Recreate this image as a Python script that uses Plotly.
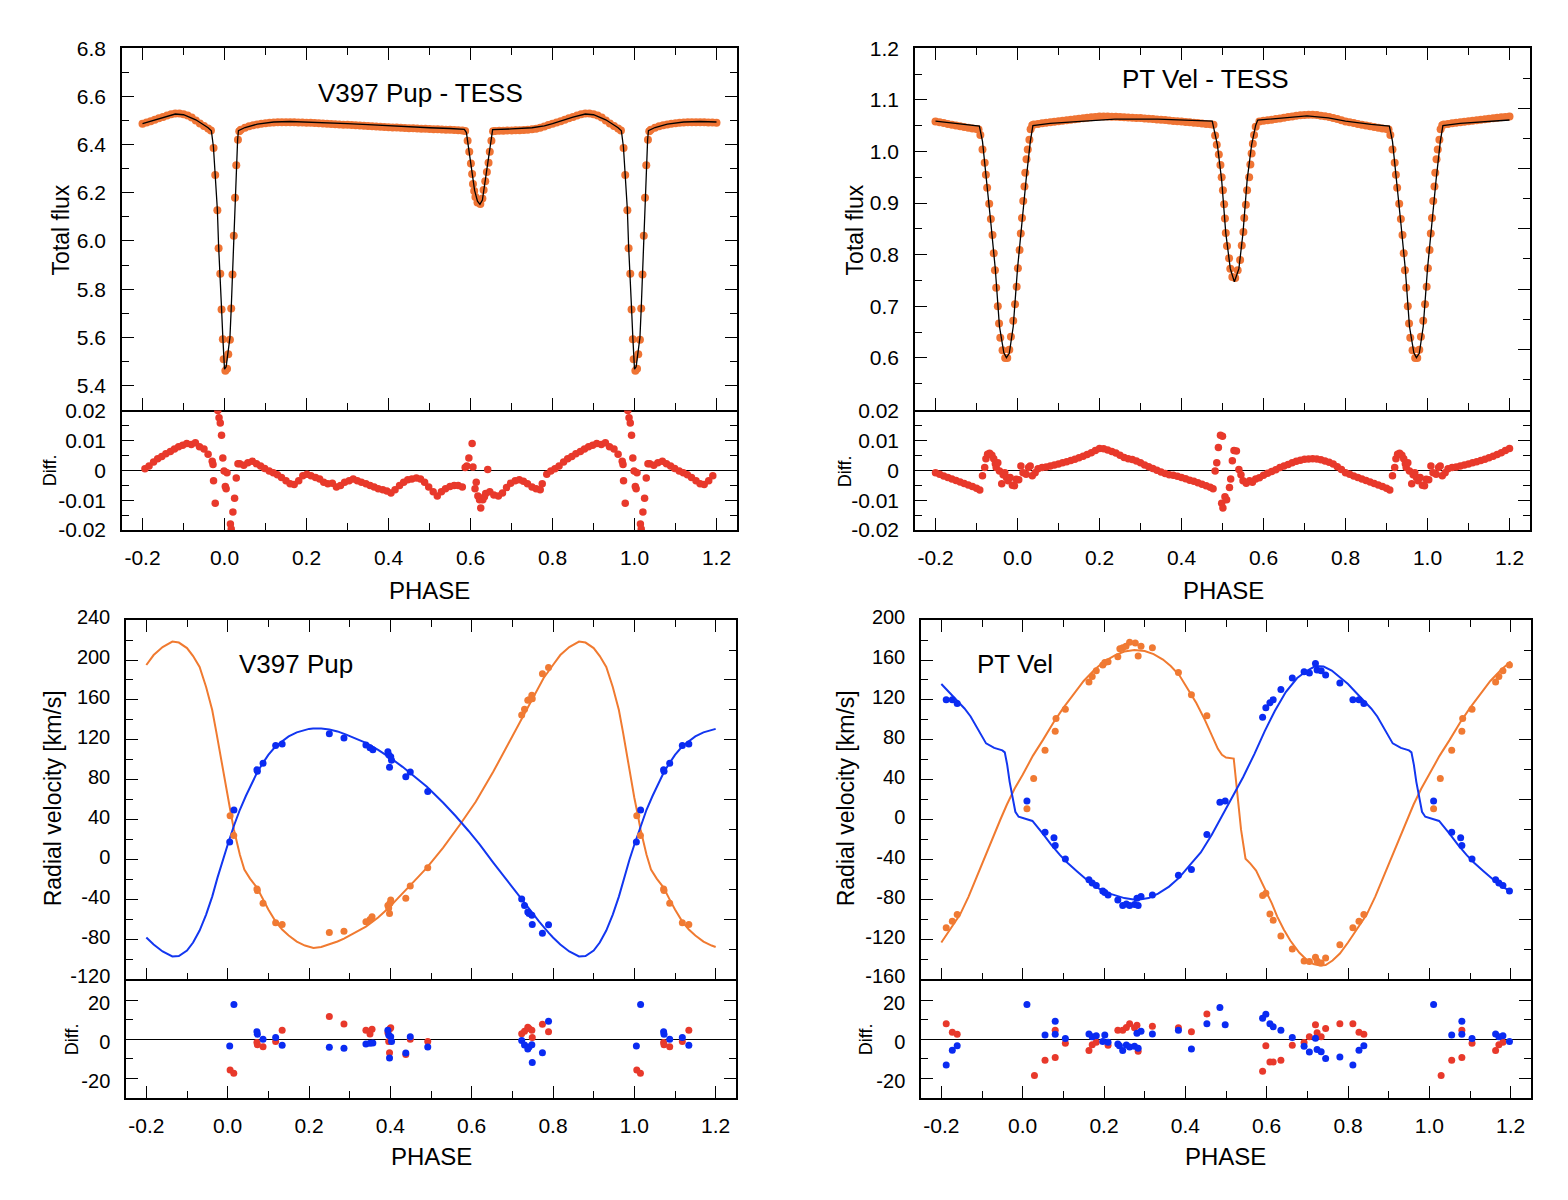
import plotly.graph_objects as go

W, H = 1568, 1200
FONT = "Liberation Sans, Arial, Helvetica, sans-serif"

# ---------------- V397 Pup - TESS light curve (base phase 0..1) ----------------
PUP_LC_PHASE = [
    0.0021, 0.0062, 0.0092, 0.0133, 0.0164, 0.0195, 0.0226, 0.0256, 0.0287, 0.0328,
    0.036, 0.04, 0.05, 0.06, 0.07, 0.08, 0.09, 0.10, 0.11, 0.12,
    0.13, 0.14, 0.15, 0.16, 0.17, 0.18, 0.19, 0.20, 0.21, 0.22,
    0.23, 0.24, 0.25, 0.26, 0.27, 0.28, 0.29, 0.30, 0.31, 0.32,
    0.33, 0.34, 0.35, 0.36, 0.37, 0.38, 0.39, 0.40, 0.41, 0.42,
    0.43, 0.44, 0.45, 0.46, 0.47, 0.48, 0.49, 0.50, 0.51, 0.52,
    0.53, 0.54, 0.55, 0.56, 0.57, 0.58, 0.587,
    0.593, 0.597, 0.601, 0.604, 0.606, 0.609, 0.612, 0.617, 0.624, 0.629,
    0.632, 0.636, 0.640, 0.644, 0.647, 0.651,
    0.655, 0.66, 0.67, 0.68, 0.69, 0.70, 0.71, 0.72, 0.73, 0.74,
    0.75, 0.76, 0.77, 0.78, 0.79, 0.80, 0.81, 0.82, 0.83, 0.84,
    0.85, 0.86, 0.87, 0.88, 0.89, 0.90, 0.91, 0.92, 0.93, 0.94,
    0.95, 0.96, 0.967,
    0.9733, 0.9774, 0.9826, 0.9856, 0.9897, 0.9928, 0.9959, 0.9979,
]
PUP_LC_FLUX = [
    5.461, 5.470, 5.530, 5.590, 5.720, 5.861, 6.022, 6.179, 6.314, 6.420,
    6.455, 6.462, 6.470, 6.476, 6.480, 6.484, 6.487, 6.489, 6.491, 6.492,
    6.493, 6.493, 6.493, 6.493, 6.493, 6.492, 6.492, 6.491, 6.491, 6.490,
    6.489, 6.488, 6.487, 6.486, 6.485, 6.484, 6.483, 6.482, 6.481, 6.480,
    6.479, 6.478, 6.477, 6.476, 6.475, 6.474, 6.473, 6.472, 6.471, 6.471,
    6.470, 6.469, 6.468, 6.468, 6.467, 6.466, 6.466, 6.465, 6.464, 6.464,
    6.463, 6.462, 6.462, 6.461, 6.460, 6.459, 6.457,
    6.416, 6.370, 6.322, 6.278, 6.237, 6.207, 6.183, 6.160, 6.153, 6.176,
    6.212, 6.248, 6.286, 6.325, 6.370, 6.416,
    6.455, 6.457, 6.458, 6.458, 6.459, 6.459, 6.460, 6.460, 6.461, 6.462,
    6.464, 6.466, 6.470, 6.475, 6.481, 6.487, 6.492, 6.497, 6.503, 6.509,
    6.515, 6.521, 6.526, 6.529, 6.529, 6.526, 6.521, 6.513, 6.500, 6.488,
    6.477, 6.467, 6.459,
    6.386, 6.274, 6.128, 5.970, 5.864, 5.715, 5.592, 5.509,
]
PUP_LC_MODEL_PHASE = [
    0.0, 0.004, 0.0092, 0.0133, 0.0164, 0.0195, 0.0226, 0.0256, 0.0287, 0.032,
    0.034, 0.05, 0.08, 0.12, 0.16, 0.2, 0.25, 0.3, 0.35, 0.4,
    0.45, 0.5, 0.55, 0.585, 0.59, 0.597, 0.603, 0.61, 0.617, 0.623,
    0.629, 0.636, 0.643, 0.65, 0.654, 0.7, 0.75, 0.78, 0.8, 0.85,
    0.88, 0.9, 0.93, 0.96, 0.968, 0.973, 0.9774, 0.9826, 0.9856, 0.9897,
    0.9928, 0.9959, 0.9985,
]
PUP_LC_MODEL_FLUX = [
    5.468, 5.478, 5.535, 5.600, 5.720, 5.860, 6.020, 6.175, 6.310, 6.420,
    6.458, 6.471, 6.485, 6.494, 6.496, 6.494, 6.491, 6.487, 6.483, 6.478,
    6.474, 6.470, 6.467, 6.463, 6.450, 6.370, 6.300, 6.210, 6.165, 6.152,
    6.170, 6.250, 6.330, 6.420, 6.462, 6.465, 6.470, 6.478, 6.487, 6.514,
    6.527, 6.524, 6.503, 6.470, 6.457, 6.390, 6.280, 6.130, 5.980, 5.860,
    5.720, 5.600, 5.500,
]
PUP_LC_RES_PHASE = [
    0.002, 0.004, 0.006, 0.0144, 0.0164, 0.0205, 0.0246, 0.0287, 0.0328,
    0.037, 0.047, 0.057, 0.068, 0.078, 0.088, 0.098, 0.109, 0.119, 0.129,
    0.139, 0.150, 0.160, 0.170, 0.181, 0.191, 0.201, 0.211, 0.222, 0.232,
    0.242, 0.252, 0.263, 0.273, 0.283, 0.293, 0.304, 0.314, 0.324, 0.334,
    0.345, 0.355, 0.365, 0.375, 0.386, 0.396, 0.406, 0.416, 0.427, 0.437,
    0.447, 0.457, 0.468, 0.478, 0.488, 0.498, 0.509, 0.519, 0.529, 0.539,
    0.550, 0.560, 0.570, 0.580,
    0.587, 0.591, 0.596, 0.604, 0.606, 0.611, 0.614, 0.618, 0.622, 0.625,
    0.630, 0.634, 0.637, 0.642, 0.647,
    0.657, 0.668, 0.678, 0.688, 0.698, 0.709, 0.719, 0.729, 0.739, 0.750,
    0.760, 0.770, 0.775, 0.786, 0.796, 0.806, 0.816, 0.827, 0.837, 0.847,
    0.857, 0.868, 0.878, 0.888, 0.898, 0.908, 0.919, 0.929, 0.939, 0.950,
    0.960, 0.970, 0.972,
    0.9733, 0.9774, 0.9836, 0.9867, 0.9897, 0.9928, 0.9959, 0.999,
]
PUP_LC_RES = [
    -0.0054, -0.0062, -0.0008, -0.0180, -0.0197, -0.0140, -0.0094, -0.0026, 0.0022,
    0.0022, 0.0017, 0.0025, 0.0030, 0.0022, 0.0014, 0.0006, -0.0002, -0.0008, -0.0015,
    -0.0024, -0.0035, -0.0045, -0.0048, -0.0035, -0.0018, -0.0013, -0.0018, -0.0024, -0.0029,
    -0.0040, -0.0045, -0.0043, -0.0056, -0.0051, -0.0040, -0.0035, -0.0029, -0.0035, -0.0040,
    -0.0045, -0.0051, -0.0056, -0.0062, -0.0065, -0.0069, -0.0076, -0.0065, -0.0051, -0.0040,
    -0.0032, -0.0029, -0.0026, -0.0029, -0.0040, -0.0056, -0.0072, -0.0086, -0.0072, -0.0062,
    -0.0054, -0.0051, -0.0051, -0.0056,
    0.0009, 0.0014, 0.0041, 0.0090, 0.0011, -0.0062, -0.0040, -0.0086, -0.0099, -0.0126,
    -0.0099, -0.0089, -0.0078, 0.0003, -0.0072,
    -0.0083, -0.0086, -0.0076, -0.0058, -0.0043, -0.0035, -0.0032, -0.0037, -0.0045, -0.0056,
    -0.0062, -0.0065, -0.0045, -0.0013, -0.0002, 0.0005, 0.0014, 0.0028, 0.0039, 0.0046,
    0.0055, 0.0063, 0.0071, 0.0079, 0.0084, 0.0090, 0.0086, 0.0092, 0.0079, 0.0071,
    0.0054, 0.0030, 0.0019,
    -0.0035, -0.0110, 0.0200, 0.0176, 0.0158, 0.0117, 0.0041, -0.0002,
]

# ---------------- PT Vel - TESS light curve (base phase 0..1) ----------------
PTV_LC_PHASE = [
    0.001, 0.005, 0.008, 0.011, 0.014, 0.017, 0.019, 0.022, 0.025, 0.029,
    0.032, 0.036, 0.04, 0.05, 0.06, 0.07, 0.08, 0.09, 0.10, 0.11,
    0.12, 0.13, 0.14, 0.15, 0.16, 0.17, 0.18, 0.19, 0.20, 0.21,
    0.22, 0.23, 0.24, 0.25, 0.26, 0.27, 0.28, 0.29, 0.30, 0.31,
    0.32, 0.33, 0.34, 0.35, 0.36, 0.37, 0.38, 0.39, 0.40, 0.41,
    0.42, 0.43, 0.44, 0.45, 0.46, 0.47, 0.478,
    0.482, 0.486, 0.491, 0.495, 0.498, 0.501, 0.504, 0.506, 0.508, 0.511,
    0.516, 0.519, 0.524, 0.531, 0.537, 0.543, 0.547, 0.551, 0.553, 0.557,
    0.560, 0.565, 0.568, 0.571, 0.574, 0.577, 0.581,
    0.59, 0.60, 0.61, 0.62, 0.63, 0.64, 0.65, 0.66, 0.67, 0.68,
    0.69, 0.70, 0.71, 0.72, 0.73, 0.74, 0.75, 0.76, 0.77, 0.78,
    0.79, 0.80, 0.81, 0.82, 0.83, 0.84, 0.85, 0.86, 0.87, 0.88,
    0.89, 0.90, 0.905,
    0.9094, 0.9146, 0.920, 0.9229, 0.926, 0.931, 0.935, 0.939, 0.942, 0.945,
    0.948, 0.952, 0.955, 0.958, 0.9635, 0.970, 0.975, 0.980, 0.984, 0.9896,
    0.994, 0.998,
]
PTV_LC_FLUX = [
    0.774, 0.809, 0.841, 0.871, 0.904, 0.932, 0.959, 0.985, 1.004, 1.023,
    1.043, 1.051, 1.0525, 1.0535, 1.0545, 1.0555, 1.0565, 1.0575, 1.0585, 1.0595,
    1.0605, 1.0615, 1.0625, 1.0635, 1.0645, 1.0655, 1.0663, 1.0670, 1.0676, 1.0680,
    1.0678, 1.0675, 1.0671, 1.0667, 1.0663, 1.0659, 1.0655, 1.0651, 1.0647, 1.0641,
    1.0635, 1.0628, 1.0622, 1.0615, 1.0608, 1.0600, 1.0593, 1.0585, 1.0580, 1.0572,
    1.0565, 1.0558, 1.0550, 1.0542, 1.0535, 1.0527, 1.0520,
    1.031, 1.013, 0.994, 0.974, 0.950, 0.925, 0.898, 0.870, 0.842, 0.817,
    0.793, 0.773, 0.757, 0.755, 0.770, 0.790, 0.818, 0.844, 0.871, 0.897,
    0.925, 0.950, 0.975, 0.996, 1.015, 1.032, 1.048,
    1.058, 1.0595, 1.0605, 1.0615, 1.0628, 1.0640, 1.0655, 1.0668, 1.0680, 1.0692,
    1.0700, 1.0708, 1.0712, 1.0710, 1.0705, 1.0695, 1.0683, 1.0668, 1.0650, 1.0630,
    1.0605, 1.0581, 1.0565, 1.0550, 1.0535, 1.0520, 1.0505, 1.0490, 1.0475, 1.0462,
    1.0448, 1.0435, 1.0428,
    1.032, 1.004, 0.978, 0.955, 0.930, 0.899, 0.869, 0.838, 0.803, 0.770,
    0.736, 0.700, 0.667, 0.639, 0.615, 0.600, 0.600, 0.616, 0.641, 0.672,
    0.704, 0.738,
]
PTV_LC_MODEL_PHASE = [
    0.0, 0.0104, 0.0208, 0.0313, 0.0375, 0.08, 0.133, 0.2, 0.2375, 0.342,
    0.415, 0.475, 0.4875, 0.498, 0.508, 0.519, 0.529, 0.54, 0.55, 0.56,
    0.571, 0.581, 0.586, 0.654, 0.706, 0.758, 0.8, 0.8625, 0.907, 0.9146,
    0.925, 0.935, 0.9458, 0.956, 0.9667, 0.973, 0.980, 0.9896,
]
PTV_LC_MODEL_FLUX = [
    0.7728, 0.8614, 0.9437, 1.0196, 1.0500, 1.0545, 1.0576, 1.0610, 1.0627, 1.0627,
    1.0608, 1.0589, 1.013, 0.944, 0.842, 0.773, 0.7475, 0.773, 0.842, 0.944,
    1.013, 1.051, 1.0608, 1.0652, 1.0690, 1.0652, 1.0589, 1.0525, 1.0494, 1.0196,
    0.9437, 0.8614, 0.7728, 0.661, 0.610, 0.6006, 0.609, 0.661,
]
PTV_LC_RES_PHASE = [
    0.003, 0.0083, 0.0135, 0.021, 0.027, 0.031, 0.036, 0.043,
    0.05, 0.06, 0.07, 0.08, 0.09, 0.10, 0.11, 0.12, 0.13, 0.14,
    0.15, 0.16, 0.17, 0.18, 0.19, 0.20, 0.21, 0.22, 0.23, 0.24,
    0.25, 0.26, 0.27, 0.28, 0.29, 0.30, 0.31, 0.32, 0.33, 0.34,
    0.35, 0.36, 0.37, 0.38, 0.39, 0.40, 0.41, 0.42, 0.43, 0.44,
    0.45, 0.46, 0.47, 0.477,
    0.482, 0.486, 0.49, 0.495, 0.5, 0.498, 0.501, 0.506, 0.51, 0.517,
    0.52, 0.524, 0.528, 0.534, 0.54, 0.545, 0.55, 0.558, 0.566, 0.573, 0.581,
    0.59, 0.60, 0.61, 0.62, 0.63, 0.64, 0.65, 0.66, 0.67, 0.68,
    0.69, 0.70, 0.71, 0.72, 0.73, 0.74, 0.75, 0.76, 0.77, 0.78,
    0.79, 0.80, 0.81, 0.82, 0.83, 0.84, 0.85, 0.86, 0.87, 0.88,
    0.89, 0.90, 0.908,
    0.9146, 0.920, 0.923, 0.927, 0.932, 0.9375, 0.942, 0.946, 0.948, 0.952,
    0.956, 0.9615, 0.965, 0.969, 0.973, 0.977, 0.982, 0.9875, 0.9927, 0.997,
]
PTV_LC_RES = [
    -0.0032, 0.0014, -0.0008, -0.0013, 0.0009, 0.0014, -0.0018, -0.0008,
    0.0005, 0.0009, 0.0011, 0.0014, 0.0018, 0.0021, 0.0025, 0.0029, 0.0033, 0.0037,
    0.0042, 0.0047, 0.0053, 0.0059, 0.0066, 0.0073, 0.0072, 0.0068, 0.0063, 0.0058,
    0.0050, 0.0043, 0.0039, 0.0036, 0.0031, 0.0025, 0.0018, 0.0012, 0.0006, 0.0000,
    -0.0006, -0.0011, -0.0015, -0.0017, -0.0020, -0.0024, -0.0028, -0.0033, -0.0037, -0.0042,
    -0.0047, -0.0052, -0.0057, -0.0062,
    -0.0002, 0.0025, 0.0076, 0.0117, 0.0114, -0.0110, -0.0126, -0.0089, -0.0099, -0.0058,
    -0.0029, 0.0032, 0.0066, 0.0065, 0.0003, -0.0015, -0.0035, -0.0043, -0.0035, -0.0040, -0.0029,
    -0.0025, -0.0017, -0.0010, -0.0004, 0.0002, 0.0009, 0.0014, 0.0019, 0.0025, 0.0030,
    0.0034, 0.0037, 0.0038, 0.0039, 0.0038, 0.0035, 0.0031, 0.0027, 0.0021, 0.0012,
    0.0003, -0.0008, -0.0013, -0.0019, -0.0024, -0.0029, -0.0034, -0.0039, -0.0044, -0.0049,
    -0.0054, -0.0060, -0.0066,
    -0.0018, 0.0009, 0.0039, 0.0054, 0.0057, 0.0050, 0.0039, 0.0022, 0.0009, 0.0025,
    -0.0002, -0.0045, -0.0015, -0.0008, -0.0024, -0.0035, -0.0024, -0.0050, -0.0052, -0.0030,
]

# ---------------- V397 Pup radial velocities (base phase 0..1) ----------------
PUP_RV1_PHASE = [0.005, 0.0154, 0.072, 0.073, 0.087, 0.118, 0.134, 0.25, 0.286, 0.34,
                 0.35, 0.357, 0.394, 0.396, 0.401, 0.403, 0.398, 0.438, 0.449, 0.492,
                 0.723, 0.73, 0.738, 0.741, 0.748, 0.749, 0.774, 0.789]
PUP_RV1 = [17.7, 49.8, 90.0, 88.5, 96.7, 114.4, 116.0, 126.2, 122.0, 114.8,
           112.0, 110.0, 108.0, 105.0, 103.0, 99.6, 92.5, 83.0, 87.8, 68.4,
           -39.3, -46.0, -52.5, -54.0, -55.8, -65.0, -73.8, -65.2]
PUP_RES1 = [-3.5, 17.7, 3.8, 2.5, 0.0, 0.8, -3.1, -4.1, -4.6, -2.5,
            -2.1, -2.0, 4.6, 2.1, 1.3, -1.2, -9.6, -7.1, 1.3, -4.0,
            -0.7, -3.0, -5.0, -4.0, -2.8, -11.9, -6.9, 9.1]
PUP_RV2_PHASE = [0.006, 0.015, 0.072, 0.073, 0.087, 0.118, 0.134, 0.25, 0.286, 0.34,
                 0.35, 0.355, 0.394, 0.396, 0.399, 0.401, 0.398, 0.438, 0.449, 0.492,
                 0.723, 0.73, 0.738, 0.741, 0.748, 0.749, 0.774, 0.789]
PUP_RV2 = [44.0, 24.3, -29.5, -31.0, -43.6, -63.3, -65.0, -73.0, -71.8, -62.3,
           -60.0, -57.3, -46.0, -48.5, -43.6, -40.3, -54.0, -38.7, -26.3, -8.2,
           144.9, 150.8, 159.7, 160.3, 164.6, 161.3, 186.2, 192.5]
PUP_RES2 = [-15.7, -17.4, -1.7, -2.8, -3.8, -1.2, 4.6, 11.6, 7.8, 4.6,
            2.6, 5.1, 3.3, -1.2, 5.3, 5.8, -6.9, -7.8, 0.0, -1.2,
            2.8, 4.1, 6.1, 5.5, 4.6, 0.8, 7.6, 3.8]
PUP_MOD1_PHASE = [0.0, 0.0154, 0.03, 0.045, 0.06, 0.072, 0.087, 0.10, 0.118, 0.134,
                  0.15, 0.17, 0.19, 0.2, 0.21, 0.23, 0.25, 0.27, 0.29, 0.31,
                  0.34, 0.37, 0.40, 0.43, 0.46, 0.49, 0.53, 0.56, 0.592, 0.62,
                  0.653, 0.685, 0.715, 0.74, 0.766, 0.789, 0.80, 0.818, 0.84, 0.864,
                  0.88, 0.90, 0.915, 0.931, 0.947, 0.962, 0.975, 0.988]
PUP_MOD1 = [15, 34, 50, 64, 77, 87, 97, 105, 113.6, 119,
            123.5, 127.5, 130, 131, 131.5, 131.5, 130.5, 128.5, 125.5, 122,
            117, 110, 102, 93, 83, 73, 57, 44, 29, 15,
            -3, -20, -35, -48, -62, -73, -78, -85, -92, -97,
            -96.5, -91, -83, -71, -55, -37, -18, 0]
PUP_MOD2_PHASE = [0.0, 0.008, 0.0154, 0.03, 0.041, 0.055, 0.072, 0.087, 0.10, 0.118,
                  0.134, 0.15, 0.17, 0.19, 0.2, 0.211, 0.23, 0.25, 0.27, 0.286,
                  0.31, 0.34, 0.37, 0.397, 0.42, 0.44, 0.46, 0.49, 0.53, 0.571,
                  0.61, 0.653, 0.69, 0.723, 0.748, 0.777, 0.80, 0.818, 0.84, 0.864,
                  0.88, 0.90, 0.915, 0.931, 0.947, 0.962, 0.972, 0.982, 0.99, 0.997]
PUP_MOD2 = [62, 46, 30, 5, -10, -19, -28, -40, -50, -62,
            -70, -76, -82, -86, -87.5, -88.5, -87.5, -85, -82, -79,
            -74, -67, -58, -48, -38, -30, -21, -8, 12, 35,
            58, 88, 116, 142, 160, 182, 195, 205, 213, 218.5,
            217.5, 212, 204, 193, 173, 150, 128, 104, 86, 70]

# ---------------- PT Vel radial velocities (base phase 0..1) ----------------
PTV_RV1_PHASE = [0.0105, 0.055, 0.077, 0.08, 0.105, 0.163, 0.171, 0.181, 0.197, 0.202,
                 0.21, 0.234, 0.246, 0.255, 0.263, 0.275, 0.284, 0.281, 0.291, 0.319,
                 0.383, 0.415, 0.453, 0.485, 0.498, 0.59, 0.598, 0.608, 0.616, 0.635,
                 0.663, 0.692, 0.705, 0.72, 0.724, 0.734, 0.745, 0.78, 0.812, 0.827, 0.839]
PTV_RV1 = [18.8, -12.6, -18.1, -25.7, -39.4, -60.0, -63.3, -65.9, -71.5, -73.0,
           -75.4, -80.3, -86.0, -84.5, -86.0, -85.0, -86.0, -78.7, -77.0, -75.4,
           -55.7, -49.8, -14.7, 17.6, 18.8, 102.6, 112.1, 117.1, 120.3, 130.5,
           141.9, 148.2, 146.9, 156.4, 150.1, 149.2, 144.9, 137.0, 120.3, 120.3, 116.4]
PTV_RES1_PHASE = [0.0105, 0.055, 0.08, 0.08, 0.105, 0.163, 0.171, 0.181, 0.197, 0.202,
                  0.21, 0.234, 0.238, 0.246, 0.255, 0.263, 0.275, 0.281, 0.284, 0.291,
                  0.319, 0.383, 0.415, 0.453, 0.485, 0.498, 0.59, 0.598, 0.608, 0.616,
                  0.635, 0.663, 0.692, 0.705, 0.72, 0.724, 0.734, 0.745, 0.78, 0.812,
                  0.827, 0.839]
PTV_RES1 = [17.7, 2.1, 9.1, 2.5, 0.3, 2.6, 1.3, 1.7, -1.2, 2.1,
            -1.5, -2.5, -3.3, -5.8, -3.0, -4.0, -3.6, 3.0, -4.6, 4.1,
            2.6, 4.6, -5.0, 7.9, 16.2, 7.4, 10.7, 12.7, 7.9, 6.3,
            4.6, 0.8, -3.6, -6.6, 0.5, -5.3, -6.4, -9.8, -9.1, -13.2,
            -5.6, -3.3]
PTV_RV2_PHASE = [0.0105, 0.027, 0.055, 0.08, 0.082, 0.105, 0.163, 0.171, 0.181, 0.197,
                 0.202, 0.21, 0.234, 0.239, 0.246, 0.254, 0.263, 0.277, 0.284, 0.291,
                 0.319, 0.383, 0.415, 0.453, 0.59, 0.598, 0.608, 0.616, 0.635, 0.663,
                 0.692, 0.705, 0.72, 0.724, 0.734, 0.745, 0.78, 0.812, 0.827, 0.839]
PTV_RV2 = [10.9, 41.3, 69.5, 88.6, 101.3, 110.8, 138.0, 143.6, 149.2, 155.0,
           157.4, 158.4, 163.3, 171.2, 172.2, 173.8, 177.7, 177.1, 164.0, 173.8,
           172.2, 147.6, 125.3, 104.3, -76.0, -73.7, -94.4, -100.7, -116.4, -129.5,
           -141.6, -142.0, -137.7, -141.6, -143.6, -138.4, -125.3, -108.2, -101.7, -95.0]
PTV_RES2_PHASE = [0.029, 0.055, 0.08, 0.08, 0.105, 0.163, 0.171, 0.181, 0.21, 0.234,
                  0.246, 0.255, 0.263, 0.275, 0.281, 0.284, 0.319, 0.383, 0.415, 0.453,
                  0.59, 0.598, 0.608, 0.616, 0.635, 0.663, 0.692, 0.705, 0.72, 0.724,
                  0.734, 0.745, 0.78, 0.812, 0.827, 0.839]
PTV_RES2 = [-18.5, -10.7, 4.6, -9.4, -2.1, -5.8, -2.8, -1.5, -3.1, 4.6,
            4.6, 6.0, 7.9, 5.8, 7.1, -6.1, 6.6, 5.8, 3.8, 12.9,
            -16.4, -3.3, -11.6, -11.6, -10.7, -3.1, -1.7, 1.3, 7.4, 3.3,
            1.3, 5.5, 7.9, 7.9, 3.6, 2.5]
PTV_MOD1_PHASE = [0.0, 0.024, 0.05, 0.07, 0.092, 0.11, 0.134, 0.155, 0.176, 0.2,
                  0.218, 0.25, 0.28, 0.31, 0.333, 0.36, 0.385, 0.41, 0.438, 0.465,
                  0.49, 0.515, 0.542, 0.57, 0.595, 0.62, 0.647, 0.675, 0.7, 0.72,
                  0.74, 0.76, 0.78, 0.8, 0.83, 0.857, 0.872, 0.89, 0.91, 0.93,
                  0.95, 0.956, 0.962, 0.968, 0.975, 0.982, 0.99]
PTV_MOD1 = [1.6, -1.2, -14.2, -25, -35.5, -43, -51.8, -59.5, -66.6, -71.5,
            -74.5, -78.5, -80.3, -78.5, -74, -67, -58, -46, -32.8, -15,
            3.3, 22, 42.6, 66, 88.6, 109, 127.9, 142, 149.5, 154,
            153.5, 149.5, 143, 136, 123, 111.5, 103.5, 91, 76.5, 72,
            69.5, 67.5, 55, 38, 22, 8, 3]
PTV_MOD2_PHASE = [0.0, 0.025, 0.05, 0.075, 0.10, 0.125, 0.15, 0.176, 0.2, 0.228,
                  0.25, 0.275, 0.30, 0.322, 0.345, 0.364, 0.385, 0.406, 0.427, 0.448,
                  0.465, 0.48, 0.49, 0.5, 0.519, 0.525, 0.531, 0.537, 0.548, 0.56,
                  0.574, 0.587, 0.6, 0.613, 0.626, 0.642, 0.658, 0.68, 0.7, 0.715,
                  0.731, 0.745, 0.762, 0.78, 0.8, 0.825, 0.846, 0.867, 0.888, 0.909,
                  0.93, 0.945, 0.961, 0.98]
PTV_MOD2 = [45, 64, 80, 97, 112, 126, 139, 150, 158.5, 165,
            168.5, 170, 169, 166, 160.5, 154, 145, 131, 117, 100,
            85, 71, 65, 62.3, 61.3, 36, 12, -10, -39, -44,
            -51, -62, -74, -84, -97, -110, -121, -133, -141, -144.5,
            -146, -145.5, -141, -134, -123, -108, -95, -77, -56, -35,
            -15, 0, 15, 31]

# ---------------- tick values / labels ----------------
PHASE_TICKS = [-0.2, 0.0, 0.2, 0.4, 0.6, 0.8, 1.0, 1.2]
PHASE_LABELS = ["-0.2", "0.0", "0.2", "0.4", "0.6", "0.8", "1.0", "1.2"]
PUP_FLUX_TICKS = [5.4, 5.6, 5.8, 6.0, 6.2, 6.4, 6.6, 6.8]
PUP_FLUX_LABELS = ["5.4", "5.6", "5.8", "6.0", "6.2", "6.4", "6.6", "6.8"]
PTV_FLUX_TICKS = [0.6, 0.7, 0.8, 0.9, 1.0, 1.1, 1.2]
PTV_FLUX_LABELS = ["0.6", "0.7", "0.8", "0.9", "1.0", "1.1", "1.2"]
LC_DIFF_TICKS = [-0.02, -0.01, 0.0, 0.01, 0.02]
LC_DIFF_LABELS = ["-0.02", "-0.01", "0", "0.01", "0.02"]
PUP_RV_TICKS = [-120, -80, -40, 0, 40, 80, 120, 160, 200, 240]
PUP_RV_LABELS = ["-120", "-80", "-40", "0", "40", "80", "120", "160", "200", "240"]
PTV_RV_TICKS = [-160, -120, -80, -40, 0, 40, 80, 120, 160, 200]
PTV_RV_LABELS = ["-160", "-120", "-80", "-40", "0", "40", "80", "120", "160", "200"]
RV_DIFF_TICKS = [-20, 0, 20]
RV_DIFF_LABELS = ["-20", "0", "20"]

# ---------------- styles ----------------
LC_ORANGE = "#EF7434"
RES_RED = "#E8392B"
RV_BLUE = "#0A2BF2"
RV_ORANGE = "#F07A33"
LINE_BLUE = "#1236F0"
LINE_ORANGE = "#F07A30"


def fold(phase, values, lo=-0.2, hi=1.2):
    pts = []
    for shift in (-1.0, 0.0, 1.0):
        for p, v in zip(phase, values):
            q = p + shift
            if lo - 1e-9 <= q <= hi + 1e-9:
                pts.append((q, v))
    pts.sort(key=lambda t: t[0])
    return [t[0] for t in pts], [t[1] for t in pts]


fig = go.Figure()


def add_points(ph, vals, color, size, xa, ya):
    x, y = fold(ph, vals)
    fig.add_trace(go.Scatter(x=x, y=y, mode="markers", xaxis=xa, yaxis=ya,
                             marker=dict(color=color, size=size, line=dict(width=0)),
                             showlegend=False, hoverinfo="skip"))


def add_line(ph, vals, color, width, xa, ya):
    x, y = fold(ph, vals)
    fig.add_trace(go.Scatter(x=x, y=y, mode="lines", xaxis=xa, yaxis=ya,
                             line=dict(color=color, width=width),
                             showlegend=False, hoverinfo="skip"))


# top-left
add_points(PUP_LC_PHASE, PUP_LC_FLUX, LC_ORANGE, 8, "x", "y")
add_line(PUP_LC_MODEL_PHASE, PUP_LC_MODEL_FLUX, "black", 1.3, "x", "y")
add_points(PUP_LC_RES_PHASE, PUP_LC_RES, RES_RED, 7.5, "x2", "y2")
# top-right
add_points(PTV_LC_PHASE, PTV_LC_FLUX, LC_ORANGE, 8, "x3", "y3")
add_line(PTV_LC_MODEL_PHASE, PTV_LC_MODEL_FLUX, "black", 1.3, "x3", "y3")
add_points(PTV_LC_RES_PHASE, PTV_LC_RES, RES_RED, 7.5, "x4", "y4")
# bottom-left
add_line(PUP_MOD2_PHASE, PUP_MOD2, LINE_ORANGE, 2, "x5", "y5")
add_line(PUP_MOD1_PHASE, PUP_MOD1, LINE_BLUE, 2, "x5", "y5")
add_points(PUP_RV2_PHASE, PUP_RV2, RV_ORANGE, 7, "x5", "y5")
add_points(PUP_RV1_PHASE, PUP_RV1, RV_BLUE, 7, "x5", "y5")
add_points(PUP_RV2_PHASE, PUP_RES2, RES_RED, 7, "x6", "y6")
add_points(PUP_RV1_PHASE, PUP_RES1, RV_BLUE, 7, "x6", "y6")
# bottom-right
add_line(PTV_MOD2_PHASE, PTV_MOD2, LINE_ORANGE, 2, "x7", "y7")
add_line(PTV_MOD1_PHASE, PTV_MOD1, LINE_BLUE, 2, "x7", "y7")
add_points(PTV_RV2_PHASE, PTV_RV2, RV_ORANGE, 7, "x7", "y7")
add_points(PTV_RV1_PHASE, PTV_RV1, RV_BLUE, 7, "x7", "y7")
add_points(PTV_RES2_PHASE, PTV_RES2, RES_RED, 7, "x8", "y8")
add_points(PTV_RES1_PHASE, PTV_RES1, RV_BLUE, 7, "x8", "y8")

# empty carriers for the right-hand auxiliary tick axes
for xa, ya in (("x3", "y9"), ("x5", "y10"), ("x7", "y11")):
    fig.add_trace(go.Scatter(x=[None], y=[None], xaxis=xa, yaxis=ya, mode="markers",
                             showlegend=False, hoverinfo="skip"))


def dom_x(a, b):
    return [a / W, b / W]


def dom_y(top, bottom):
    return [1 - bottom / H, 1 - top / H]


TL_X = dom_x(122.0, 737.0)
TR_X = dom_x(915.0, 1530.0)
BL_X = dom_x(126.0, 736.0)
BR_X = dom_x(921.0, 1531.0)
TOP_MAIN = dom_y(35.0, 404.0)
TOP_RES = dom_y(405.0, 527.0)
BOT_MAIN = dom_y(619.0, 986.0)
BOT_RES = dom_y(987.0, 1107.0)

TICKFONT = dict(family=FONT, size=21, color="black")
RV_TICKFONT = dict(family=FONT, size=20, color="black")


def minor(tick0, dtick):
    return dict(ticks="inside", ticklen=7, tickwidth=1.4, tickcolor="black",
                tickmode="linear", tick0=tick0, dtick=dtick)


def base_axis(**kw):
    d = dict(showgrid=False, zeroline=False, showline=True, linecolor="black",
             linewidth=1.5, ticks="inside", ticklen=12, tickwidth=1.4,
             tickcolor="black", tickfont=TICKFONT)
    d.update(kw)
    return d


def x_axis(domain, anchor, main):
    return base_axis(domain=domain, anchor=anchor, range=[-0.25, 1.25],
                     tickmode="array", tickvals=PHASE_TICKS, ticktext=PHASE_LABELS,
                     showticklabels=not main, mirror="ticks" if main else False,
                     minor=minor(0, 0.1), ticklabelstandoff=8)


def y_axis(domain, anchor, rng, tv, tt, mdt, mirror="ticks", zero=False, shift=0,
           font=TICKFONT):
    return base_axis(domain=domain, anchor=anchor, range=rng, tickmode="array",
                     tickvals=tv, ticktext=tt, mirror=mirror, minor=minor(0, mdt),
                     zeroline=zero, zerolinecolor="black", zerolinewidth=1.2,
                     ticklabelstandoff=10, ticklabelshift=shift, tickfont=font)


def right_axis(over, anchor, rng, tick0, dtick):
    return dict(overlaying=over, anchor=anchor, side="right", range=rng,
                showgrid=False, zeroline=False, showline=False, showticklabels=False,
                ticks="inside", ticklen=12, tickwidth=1.4, tickcolor="black",
                tickmode="linear", tick0=tick0, dtick=dtick,
                minor=minor(tick0, dtick / 2))


# ticklabelshift on a y axis: negative = upwards on screen, positive = downwards
fig.update_layout(
    width=W, height=H, margin=dict(l=0, r=0, t=0, b=0),
    paper_bgcolor="white", plot_bgcolor="white", showlegend=False,
    xaxis=x_axis(TL_X, "y", True),
    xaxis2=x_axis(TL_X, "y2", False),
    xaxis3=x_axis(TR_X, "y3", True),
    xaxis4=x_axis(TR_X, "y4", False),
    xaxis5=x_axis(BL_X, "y5", True),
    xaxis6=x_axis(BL_X, "y6", False),
    xaxis7=x_axis(BR_X, "y7", True),
    xaxis8=x_axis(BR_X, "y8", False),
    yaxis=y_axis(TOP_MAIN, "x", [5.3, 6.8], PUP_FLUX_TICKS, PUP_FLUX_LABELS, 0.1),
    yaxis2=y_axis(TOP_RES, "x2", [-0.02, 0.02], LC_DIFF_TICKS, LC_DIFF_LABELS, 0.005, zero=True),
    yaxis3=y_axis(TOP_MAIN, "x3", [0.5, 1.2], PTV_FLUX_TICKS, PTV_FLUX_LABELS, 0.05, mirror=True),
    yaxis4=y_axis(TOP_RES, "x4", [-0.02, 0.02], LC_DIFF_TICKS, LC_DIFF_LABELS, 0.005, zero=True),
    yaxis5=y_axis(BOT_MAIN, "x5", [-120, 240], PUP_RV_TICKS, PUP_RV_LABELS, 20, mirror=True,
                  shift=-3, font=RV_TICKFONT),
    yaxis6=y_axis(BOT_RES, "x6", [-30, 30], RV_DIFF_TICKS, RV_DIFF_LABELS, 10, zero=True,
                  shift=3, font=RV_TICKFONT),
    yaxis7=y_axis(BOT_MAIN, "x7", [-160, 200], PTV_RV_TICKS, PTV_RV_LABELS, 20, mirror=True,
                  shift=-3, font=RV_TICKFONT),
    yaxis8=y_axis(BOT_RES, "x8", [-30, 30], RV_DIFF_TICKS, RV_DIFF_LABELS, 10, zero=True,
                  shift=3, font=RV_TICKFONT),
    yaxis9=right_axis("y3", "x3", [0.5, 1.2], 0.6168, 0.1168),
    yaxis10=right_axis("y5", "x5", [-120, 240], 0, 60),
    yaxis11=right_axis("y7", "x7", [-160, 200], 20, 60),
)


def ann(text, x, y, size, angle=0):
    return dict(text=text, x=x / W, y=1 - y / H, xref="paper", yref="paper",
                showarrow=False, xanchor="center", yanchor="middle", textangle=angle,
                font=dict(family=FONT, size=size, color="black"))


fig.update_layout(annotations=[
    ann("V397 Pup - TESS", 420, 81, 26),
    ann("PT Vel - TESS", 1205, 66, 26),
    ann("V397 Pup", 296, 664, 26),
    ann("PT Vel", 1015, 664, 26),
    ann("Total flux", 61, 221, 23, -90),
    ann("Total flux", 855, 221, 23, -90),
    ann("Diff.", 50, 466, 18, -90),
    ann("Diff.", 845, 467, 18, -90),
    ann("PHASE", 429, 589, 24),
    ann("PHASE", 1223, 589, 24),
    ann("Radial velocity [km/s]", 53, 801, 23, -90),
    ann("Radial velocity [km/s]", 846, 801, 23, -90),
    ann("Diff.", 72, 1047, 18, -90),
    ann("Diff.", 866, 1047, 18, -90),
    ann("PHASE", 431, 1167, 24),
    ann("PHASE", 1225, 1167, 24),
])

fig.write_html(
    "out.html",
    config={"displayModeBar": False},
    post_script="document.body.style.margin='0px';document.body.style.padding='0px';"
                "document.body.style.overflow='hidden';",
)
